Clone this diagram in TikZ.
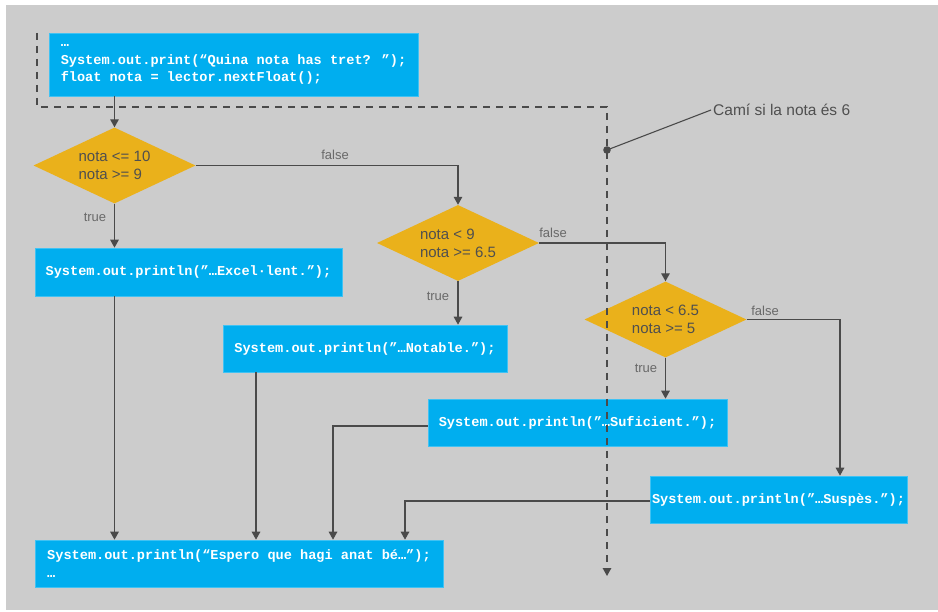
\documentclass[tikz,border=0pt]{standalone}
\usepackage{fontspec}
\setmainfont{Liberation Sans}
\newfontfamily\codefont{Liberation Mono}
\newcommand\codesetup{\codefont\bfseries\fontsize{13.6}{17.5}\selectfont}
\newcommand\codesp{\spaceskip=0.6em\relax\xspaceskip=0.6em\relax}
\usetikzlibrary{arrows.meta,shapes.geometric,calc}
\definecolor{bg}{HTML}{CCCCCC}
\definecolor{boxblue}{HTML}{00AEEF}
\definecolor{gold}{HTML}{EAB11B}
\definecolor{linec}{HTML}{4A4A4A}
\definecolor{txtc}{HTML}{4F4F4F}
\begin{document}
\begin{tikzpicture}[x=1pt,y=-1pt,
 codebox/.style={rectangle, fill=boxblue, draw=boxblue!75!white, line width=0.6pt, text=white,
   font=\codesetup, inner sep=0pt},
 decision/.style={diamond, fill=gold, draw=none, minimum width=162pt, minimum height=76pt,
   inner sep=0pt, shape aspect=2.2, font=\fontsize{15}{18}\selectfont, text=txtc, align=left},
 tip/.tip={Triangle[width=8.5pt,length=8pt]},
 arr/.style={draw=linec, line width=1.4pt, -tip},
 lbl/.style={font=\fontsize{13}{15}\selectfont, text=txtc!85!white, inner sep=1pt},
 dashpath/.style={draw=linec, line width=1.4pt, dash pattern=on 7pt off 6pt, -tip}
]
\useasboundingbox[fill=white] (0,0) rectangle (938,612);
\fill[bg] (6,5) rectangle (938,610);

% boxes
\node[codebox, minimum width=369pt, minimum height=63pt, align=left] (top) at (233.5,64.5)
  {\codesp …\\System.out.print(“Quina nota has tret? ”);\\float nota = lector.nextFloat();};
\node[codebox, minimum width=307pt, minimum height=48pt] (ex) at (188.5,272) {System.out.println(”…Excel·lent.”);};
\node[codebox, minimum width=284pt, minimum height=47pt] (nt) at (365,348.5) {System.out.println(”…Notable.”);};
\node[codebox, minimum width=299pt, minimum height=47pt] (sf) at (577.5,422.5) {System.out.println(”…Suficient.”);};
\node[codebox, minimum width=257pt, minimum height=47pt] (su) at (778.5,499.5) {System.out.println(”…Suspès.”);};
\node[codebox, minimum width=408pt, minimum height=47pt, align=left] (fin) at (239,563.5)
  {\codesp System.out.println(“Espero que hagi anat bé…”);\\…};

% decisions
\node[decision] (d1) at (114.5,165.5) {nota <= 10\\nota >= 9};
\node[decision] (d2) at (458,243) {nota < 9\\nota >= 6.5};
\node[decision] (d3) at (665.5,319.5) {nota < 6.5\\nota >= 5};

% connectors
\draw[arr] (top.south -| d1.north) -- (d1.north);
\draw[arr] (d1.east) -| (d2.north);
\draw[arr] (d1.south) -- (d1.south |- ex.north);
\draw[arr] (d2.east) -| (d3.north);
\draw[arr] (d2.south) -- (d2.south |- nt.north);
\draw[arr] (d3.east) -| ([xshift=61.5pt]su.north);
\draw[arr] (d3.south) -- (d3.south |- sf.north);
\draw[arr] (d1.south |- ex.south) -- (d1.south |- fin.north);
\draw[arr] ([xshift=-109pt]nt.south) -- ([xshift=-109pt]nt.south |- fin.north);
\draw[arr] ([yshift=-3.5pt]sf.west) -| ([xshift=94pt]fin.north);
\draw[arr] ([yshift=-1.5pt]su.west) -| ([xshift=166pt]fin.north);

% labels
\node[lbl] (l1) at (335,155) {false};
\node[lbl] (l2) at (95,217) {true};
\node[lbl] (l3) at (553,233) {false};
\node[lbl] (l4) at (438,296) {true};
\node[lbl] (l5) at (765,311) {false};
\node[lbl] (l6) at (646,368) {true};

% dashed path
\coordinate (p0) at (37,33);
\coordinate (p1) at (37,107);
\coordinate (p2) at (607,107);
\coordinate (p3) at (607,576);
\coordinate (dot) at (607,150);
\draw[dashpath] (p0) -- (p1) -- (p2) -- (p3);
\fill[linec] (dot) circle (3.8pt);
\node[font=\fontsize{15.5}{18}\selectfont, text=txtc, anchor=west, inner sep=2pt] (cami) at (711,110) {Camí si la nota és 6};
\draw[linec, line width=1.1pt] (dot) -- (cami.west);
\end{tikzpicture}
\end{document}
